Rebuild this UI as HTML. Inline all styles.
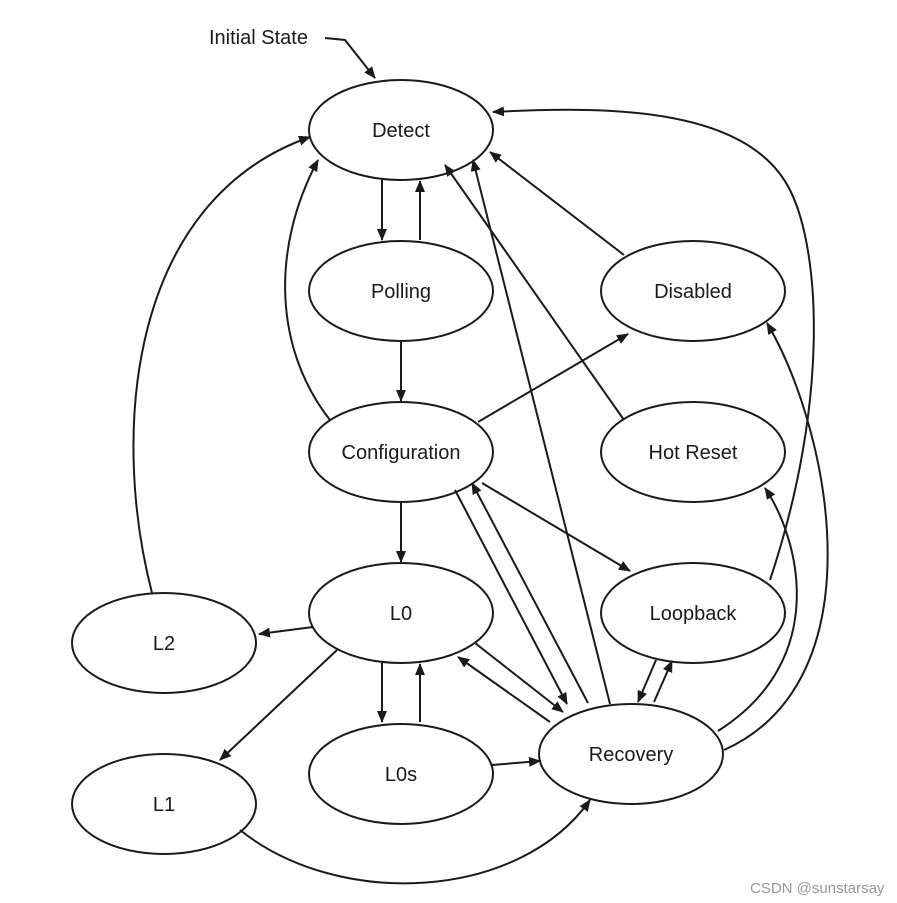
<!DOCTYPE html>
<html><head><meta charset="utf-8"><style>
html,body{margin:0;padding:0;background:#fff}
svg{display:block}
text{font-family:"Liberation Sans",sans-serif;font-size:20px;fill:#1a1a1a}
</style></head><body>
<svg width="897" height="903" viewBox="0 0 897 903" xmlns="http://www.w3.org/2000/svg">
<defs>
<marker id="a" viewBox="0 0 12 10" refX="11" refY="5" markerWidth="12" markerHeight="10" markerUnits="userSpaceOnUse" orient="auto">
<path d="M0,0 L12,5 L0,10 Z" fill="#1a1a1a"/>
</marker>
</defs>
<g fill="none" stroke="#1a1a1a" stroke-width="2">
<ellipse cx="401" cy="130" rx="92" ry="50"/>
<ellipse cx="401" cy="291" rx="92" ry="50"/>
<ellipse cx="401" cy="452" rx="92" ry="50"/>
<ellipse cx="401" cy="613" rx="92" ry="50"/>
<ellipse cx="401" cy="774" rx="92" ry="50"/>
<ellipse cx="693" cy="291" rx="92" ry="50"/>
<ellipse cx="693" cy="452" rx="92" ry="50"/>
<ellipse cx="693" cy="613" rx="92" ry="50"/>
<ellipse cx="631" cy="754" rx="92" ry="50"/>
<ellipse cx="164" cy="643" rx="92" ry="50"/>
<ellipse cx="164" cy="804" rx="92" ry="50"/>
</g>
<g fill="none" stroke="#1a1a1a" stroke-width="2" marker-end="url(#a)">
<path d="M325,38 L345,40 L375,78"/>
<path d="M382,180 L382,240"/>
<path d="M420,240 L420,181"/>
<path d="M401,341 L401,401"/>
<path d="M401,502 L401,562"/>
<path d="M382,663 L382,722"/>
<path d="M420,722 L420,664"/>
<path d="M330,420 C275,350 270,250 318,160"/>
<path d="M152,593 C110,430 130,200 310,137"/>
<path d="M313,627 L259,634"/>
<path d="M337,650 L220,760"/>
<path d="M240,830 C340,910 520,900 590,800"/>
<path d="M492,765 L540,761"/>
<path d="M610,704 L473,160"/>
<path d="M455,490 L567,704"/>
<path d="M588,703 L472,483"/>
<path d="M475,643 L563,712"/>
<path d="M550,722 L458,657"/>
<path d="M478,422 L628,334"/>
<path d="M482,483 L630,571"/>
<path d="M624,255 L490,152"/>
<path d="M624,420 L445,165"/>
<path d="M770,580 C830,400 820,250 790,190 C750,110 620,105 493,112"/>
<path d="M656,660 L638,702"/>
<path d="M654,702 L672,661"/>
<path d="M718,731 C830,660 800,540 765,488"/>
<path d="M724,750 C880,680 830,430 767,323"/>
</g>
<text x="209" y="44">Initial State</text>
<g text-anchor="middle">
<text x="401" y="137">Detect</text>
<text x="401" y="298">Polling</text>
<text x="401" y="459">Configuration</text>
<text x="401" y="620">L0</text>
<text x="401" y="781">L0s</text>
<text x="693" y="298">Disabled</text>
<text x="693" y="459">Hot Reset</text>
<text x="693" y="620">Loopback</text>
<text x="631" y="761">Recovery</text>
<text x="164" y="650">L2</text>
<text x="164" y="811">L1</text>
</g>
<text x="750" y="893" style="font-size:15px;fill:#999">CSDN @sunstarsay</text>
</svg>
</body></html>
